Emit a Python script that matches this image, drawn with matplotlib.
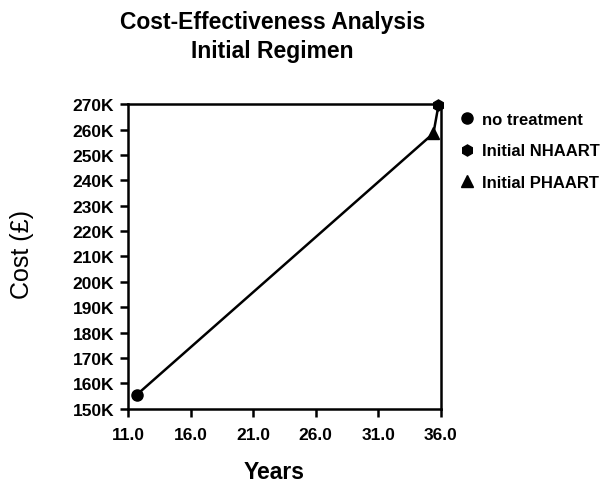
import matplotlib.pyplot as plt
from matplotlib.ticker import FuncFormatter

plt.rcParams['font.family'] = ['Liberation Sans', 'DejaVu Sans']

# strategies, effectiveness (years) and cost (K pounds)
labels = ['no treatment', 'Initial NHAART', 'Initial PHAART']
years = [11.7, 35.8, 35.4]
cost = [155.5, 269.5, 258.5]
markers = ['o', 'h', '^']

# order the frontier line is drawn through
line_order = [0, 2, 1]

fig = plt.figure(figsize=(6.15, 4.89), dpi=100)
ax = fig.add_axes([0.208, 0.162, 0.509, 0.623])

ax.plot([years[i] for i in line_order], [cost[i] for i in line_order],
        color='black', linewidth=1.8, zorder=2)
for x, y, m, lab in zip(years, cost, markers, labels):
    ax.plot(x, y, marker=m, color='black', markersize=8, linestyle='none',
            label=lab, zorder=3, clip_on=False)

ax.set_xlim(11, 36)
ax.set_ylim(150, 270)
ax.set_xticks([11, 16, 21, 26, 31, 36])
ax.set_yticks(range(150, 271, 10))
ax.xaxis.set_major_formatter(FuncFormatter(lambda v, p: '%.1f' % v))
ax.yaxis.set_major_formatter(FuncFormatter(lambda v, p: '%dK' % v))

for s in ax.spines.values():
    s.set_linewidth(1.8)
ax.tick_params(direction='out', length=6, width=1.8, labelsize=12.5)
ax.tick_params(axis='x', pad=7)
ax.tick_params(axis='y', pad=4)
for t in ax.get_xticklabels() + ax.get_yticklabels():
    t.set_fontweight('bold')

fig.text(0.446, 0.033, 'Years', ha='center', va='center',
         fontsize=16.5, fontweight='bold')
fig.text(0.036, 0.48, 'Cost (\u00a3)', ha='center', va='center',
         fontsize=18, rotation=90)
fig.text(0.443, 0.955, 'Cost-Effectiveness Analysis', ha='center', va='center',
         fontsize=16.5, fontweight='bold')
fig.text(0.443, 0.894, 'Initial Regimen', ha='center', va='center',
         fontsize=16.5, fontweight='bold')

leg = fig.legend(loc='upper left', bbox_to_anchor=(0.718, 0.8), frameon=False,
                 prop={'size': 12, 'weight': 'bold'}, handletextpad=0.35,
                 labelspacing=1.0, handlelength=1.2)

fig.savefig('out.png', dpi=100)
